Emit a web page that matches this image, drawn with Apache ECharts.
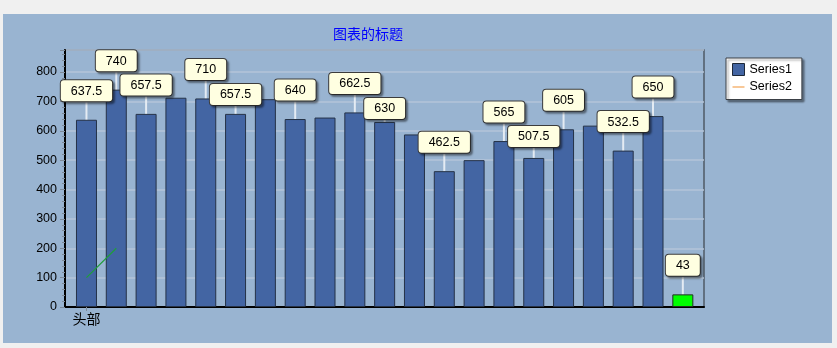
<!DOCTYPE html>
<html><head><meta charset="utf-8">
<script src="https://cdn.jsdelivr.net/npm/echarts@6/dist/echarts.min.js"></script>
<style>
html,body{margin:0;padding:0;background:#f0f0f0;width:837px;height:348px;overflow:hidden}
#panel{position:absolute;left:3px;top:14px;width:829px;height:329px;background:#99b4d1;}
#chart{width:829px;height:329px}
</style></head><body>
<div id="panel"><div id="chart"></div></div>
<script>
// ---- data ----
const titleText = '图表的标题';
const seriesNames = ['Series1', 'Series2'];
const categories = ['头部'];
const series1Values = [637.5, 740, 657.5, 712.5, 710, 657.5, 707.5, 640, 645, 662.5, 630, 587.5, 462.5, 500, 565, 507.5, 605, 617.5, 532.5, 650, 43];
const series2Values = [100, 200];
const labeledIndex = [0, 1, 2, 4, 5, 7, 9, 10, 12, 14, 15, 16, 18, 19, 20];
const highlightIndex = [20];
const yMin = 0, yMax = 875, yInterval = 100;

// ---- styles ----
const labelGap = {5: 9, 10: 3, 15: 11};
const defaultGap = 18.5;

const barData = series1Values.map((v, i) => {
  const item = { value: [i, v] };
  if (labeledIndex.includes(i)) item.label = { show: true };
  if (highlightIndex.includes(i)) item.itemStyle = { color: '#00ff00', borderColor: '#1f3020' };
  return item;
});
const lineData = series2Values.map((v, i) => [i, v]);

const chart = echarts.init(document.getElementById('chart'), null, { renderer: 'canvas' });
chart.setOption({
  animation: false,
  title: {
    text: titleText, left: 325, top: 8,
    textStyle: { color: '#0000ff', fontSize: 14, fontWeight: 'normal', fontFamily: 'Noto Sans CJK SC' }
  },
  legend: {
    orient: 'vertical', left: 723, top: 44,
    padding: [5, 10, 6, 6], itemGap: 4.5, itemWidth: 12, itemHeight: 12,
    backgroundColor: '#ffffff', borderColor: '#3a3f45', borderWidth: 1,
    shadowColor: 'rgba(0,0,0,0.4)', shadowBlur: 2, shadowOffsetX: 2, shadowOffsetY: 2,
    textStyle: { color: '#000', fontSize: 12.5, fontFamily: 'Liberation Sans' },
    data: [
      { name: seriesNames[0], icon: 'rect', itemStyle: { color: '#4365a3', borderColor: '#1d2838', borderWidth: 1 } },
      { name: seriesNames[1], icon: 'path://M0,0L12,0L12,2L0,2Z', itemStyle: { color: '#f8c898', borderWidth: 0 } }
    ]
  },
  grid: {
    left: 62, top: 36, width: 639, height: 257,
    show: true, borderColor: '#4f5a66', borderWidth: 1.5, backgroundColor: 'transparent'
  },
  xAxis: {
    type: 'value', min: -0.72, max: 20.71,
    axisLine: { onZero: false, lineStyle: { color: '#000', width: 2 } },
    axisTick: { show: true, customValues: [0], length: 4, lineStyle: { color: '#7d8a98', width: 1 } },
    axisLabel: {
      customValues: [0], margin: 5,
      formatter: v => categories[Math.round(v)] || '',
      color: '#000', fontSize: 14, fontFamily: 'Noto Sans CJK SC'
    },
    splitLine: { show: false }
  },
  yAxis: {
    type: 'value', min: yMin, max: yMax, interval: yInterval,
    axisLine: { show: true, onZero: false, lineStyle: { color: '#000', width: 2 } },
    axisTick: { show: true, length: 5, lineStyle: { color: '#7d8a98' } },
    minorTick: { show: true, splitNumber: 5, length: 3, lineStyle: { color: '#7d8a98' } },
    axisLabel: { margin: 8, color: '#000', fontSize: 12.5, fontFamily: 'Liberation Sans', showMaxLabel: false },
    splitLine: { show: true, lineStyle: { color: '#b4c4d8', width: 1.5 } }
  },
  series: [
    {
      name: seriesNames[0], type: 'bar', barWidth: 21, data: barData, z: 2,
      itemStyle: { color: '#4365a3', borderColor: '#253247', borderWidth: 1 },
      label: {
        show: false, position: 'top', distance: 0,
        formatter: p => String(p.value[1]),
        color: '#000', fontSize: 12.5, fontFamily: 'Liberation Sans', lineHeight: 14,
        backgroundColor: '#ffffe1', borderColor: '#3c3c3c', borderWidth: 1, borderRadius: 3,
        padding: [4, 10, 3, 10],
        shadowColor: 'rgba(0,0,0,0.35)', shadowBlur: 2, shadowOffsetX: 2, shadowOffsetY: 2
      },
      labelLine: { show: true, lineStyle: { color: '#e4ebf3', width: 2 } },
      labelLayout: p => ({ dy: -(labelGap[p.dataIndex] !== undefined ? labelGap[p.dataIndex] : defaultGap) })
    },
    {
      name: seriesNames[1], type: 'line', data: lineData, symbol: 'none', z: 10,
      itemStyle: { color: '#f8c898' },
      lineStyle: { color: '#1f9e3a', width: 1.2 }
    }
  ]
});
</script>
</body></html>
